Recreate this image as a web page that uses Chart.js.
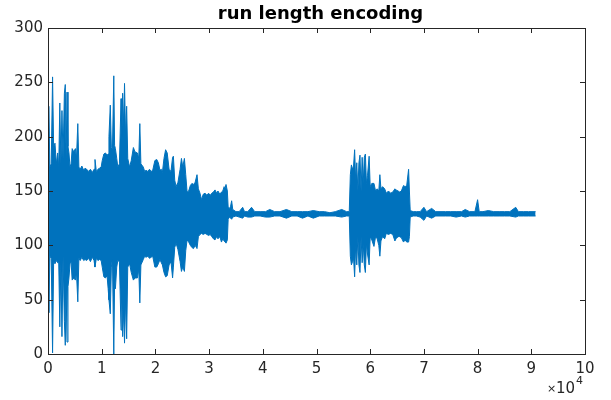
<!DOCTYPE html>
<html>
<head>
<meta charset="utf-8">
<title>run length encoding</title>
<script src="https://cdn.jsdelivr.net/npm/chart.js@4"></script>
<style>
	html, body { margin: 0; padding: 0; background: #fff; }
	#wrap { width: 611px; height: 400px; }
</style>
</head>
<body>
<div id="wrap"><canvas id="rleChart" width="611" height="400"></canvas></div>
<script>
// sample index, and the top / bottom of the waveform
const samples = [
	0, 150, 350, 600, 850, 1050, 1300, 1550, 1800, 2000,
	2200, 2400, 2600, 2800, 3050, 3220, 3380, 3540, 3720, 3900,
	4100, 4300, 4500, 4800, 5100, 5300, 5550, 5750, 6000, 6300,
	6650, 6900, 7200, 7600, 7900, 8250, 8570, 8750, 9000, 9300,
	9600, 9900, 10100, 10400, 10700, 11000, 11200, 11350, 11600, 11800,
	12000, 12250, 12400, 12550, 12800, 13000, 13300, 13600, 13750, 13900,
	14100, 14250, 14450, 14650, 14850, 15200, 15500, 15900, 16200, 16650,
	16900, 17100, 17300, 17750, 18000, 18250, 18600, 18900, 19200, 19500,
	19900, 20250, 20550, 20850, 21100, 21300, 21600, 21900, 22200, 22550,
	22900, 23200, 23350, 23600, 23850, 24200, 24600, 24850, 25100, 25400,
	25650, 25900, 26200, 26500, 26800, 27100, 27400, 27750, 28000, 28300,
	28600, 28900, 29250, 29600, 29900, 30200, 30500, 30800, 31100, 31400,
	31650, 32000, 32300, 32550, 32800, 33000, 33150, 33400, 33550, 33800,
	34000, 34200, 34400, 35000, 35600, 36250, 36600, 37200, 37900, 38500,
	39500, 40500, 41300, 42200, 43200, 44400, 45400, 46400, 47400, 48400,
	49400, 50500, 51500, 52500, 53500, 54700, 55600, 56100, 56300, 56500,
	56700, 56900, 57100, 57300, 57500, 57700, 57900, 58100, 58300, 58500,
	58700, 58900, 59100, 59300, 59500, 59800, 60000, 60300, 60700, 61000,
	61300, 61600, 61800, 62000, 62300, 62700, 63000, 63400, 63800, 64200,
	64600, 64800, 65200, 65500, 65800, 66200, 66500, 66800, 67150, 67300,
	67450, 68000, 68600, 69300, 70000, 70500, 71450, 72200, 73000, 74000,
	75000, 76000, 77000, 77700, 78500, 79500, 80000, 80300, 81000, 82000,
	83000, 84000, 85000, 86000, 87100, 87600, 88500, 89500, 90800
]
const upper = [
	150, 228, 172, 175, 255, 190, 194, 175, 185, 172,
	231, 175, 224, 180, 240, 248, 180, 241, 191, 185,
	172, 175, 189, 186, 189, 180, 212, 172, 170, 173,
	169, 171, 170, 168, 170, 167, 170, 179, 168, 170,
	171, 172, 178, 184, 185, 183, 184, 200, 229, 190,
	189, 256, 192, 189, 180, 172, 175, 235, 200, 240,
	210, 249, 200, 228, 180, 172, 178, 190, 186, 185,
	180, 212, 175, 172, 168, 169, 168, 170, 168, 169,
	178, 179, 176, 169, 170, 167, 180, 188, 185, 170,
	168, 181, 182, 160, 154, 158, 170, 180, 172, 180,
	165, 149, 150, 155, 157, 156, 158, 165, 152, 148,
	142, 147, 148, 146, 148, 146, 148, 149, 151, 148,
	150, 147, 149, 150, 154, 153, 156, 150, 135, 134,
	136, 141, 133, 131, 131, 135, 131, 131, 135, 131,
	131, 131, 133, 131, 131, 133, 131, 131, 131, 131,
	132, 131, 131, 130, 131, 133, 131, 131, 165, 174,
	170, 173, 188, 160, 176, 150, 176, 183, 150, 181,
	157, 181, 184, 157, 164, 182, 154, 157, 157, 150,
	152, 150, 165, 152, 154, 152, 148, 150, 148, 149,
	152, 151, 150, 149, 150, 155, 154, 155, 170, 150,
	132, 131, 131, 131, 135, 131, 134, 131, 131, 131,
	131, 131, 131, 133, 131, 131, 142, 131, 131, 132,
	131, 131, 131, 131, 135, 131, 131, 131, 131
]
const lower = [
	105, 38, 90, 88, 1, 85, 83, 86, 84, 84,
	25, 85, 16, 90, 30, 8, 60, 11, 62, 70,
	83, 85, 68, 70, 68, 75, 48, 88, 86, 89,
	86, 87, 86, 88, 85, 89, 86, 80, 88, 86,
	87, 86, 80, 71, 70, 72, 60, 50, 37, 80,
	88, 0, 65, 60, 80, 86, 85, 22, 50, 16,
	40, 10, 50, 14, 80, 83, 75, 68, 70, 70,
	78, 47, 82, 87, 90, 89, 90, 88, 89, 90,
	80, 80, 83, 87, 84, 82, 75, 71, 72, 82,
	85, 70, 80, 98, 102, 96, 85, 76, 80, 76,
	95, 105, 103, 100, 98, 97, 100, 97, 108, 110,
	111, 110, 111, 110, 109, 110, 108, 106, 105, 108,
	106, 108, 103, 106, 104, 103, 102, 105, 124, 126,
	125, 124, 126, 127, 126, 125, 127, 126, 126, 127,
	127, 126, 126, 127, 127, 125, 127, 127, 125, 127,
	125, 127, 127, 127, 127, 126, 127, 127, 90, 82,
	85, 88, 71, 100, 82, 108, 82, 75, 108, 84,
	102, 82, 75, 102, 92, 82, 108, 105, 99, 108,
	106, 100, 90, 104, 108, 106, 111, 110, 111, 110,
	104, 106, 108, 108, 107, 103, 105, 103, 103, 108,
	126, 127, 127, 126, 123, 127, 125, 127, 127, 127,
	127, 126, 127, 126, 127, 127, 127, 127, 127, 127,
	127, 127, 127, 127, 126, 127, 127, 127, 127
]
const xTicks = [0, 10000, 20000, 30000, 40000, 50000, 60000, 70000, 80000, 90000, 100000]
const yTicks = [0, 50, 100, 150, 200, 250, 300]

const chartTitle = 'run length encoding'
const lineColor = '#0072BD'
const axisColor = '#262626'
const fontName = '"DejaVu Sans", "Liberation Sans", sans-serif'

//frame, inward ticks, title and the x10^4 note, MATLAB style
const matlabAxes = {
	id: 'matlabAxes',
	afterDraw: chart => {
		const ctx = chart.ctx
		const area = chart.chartArea
		const xs = chart.scales.x
		const ys = chart.scales.y
		ctx.save()
		ctx.strokeStyle = axisColor
		ctx.lineWidth = 1
		ctx.strokeRect(area.left + 0.5, area.top + 0.5, area.right - area.left, area.bottom - area.top)

		ctx.beginPath()
		xTicks.forEach(t => {
			const px = Math.round(xs.getPixelForValue(t)) + 0.5
			ctx.moveTo(px, area.bottom)
			ctx.lineTo(px, area.bottom - 5)
			ctx.moveTo(px, area.top)
			ctx.lineTo(px, area.top + 5)
		})
		yTicks.forEach(t => {
			const py = Math.round(ys.getPixelForValue(t)) + 0.5
			ctx.moveTo(area.left, py)
			ctx.lineTo(area.left + 5, py)
			ctx.moveTo(area.right, py)
			ctx.lineTo(area.right - 5, py)
		})
		ctx.stroke()

		//title
		ctx.fillStyle = '#000'
		ctx.font = `bold 18px ${fontName}`
		ctx.textAlign = 'center'
		ctx.textBaseline = 'middle'
		ctx.fillText(chartTitle, (area.left + area.right) / 2 + 4, 14)

		//exponent note under the x axis
		ctx.fillStyle = axisColor
		ctx.textAlign = 'left'
		ctx.textBaseline = 'alphabetic'
		ctx.font = `11px ${fontName}`
		ctx.fillText('\u00d7', 547, 392)
		ctx.font = `15px ${fontName}`
		ctx.fillText('10', 556, 393)
		ctx.font = `11px ${fontName}`
		ctx.fillText('4', 576, 384)
		ctx.restore()
	}
}

document.addEventListener('DOMContentLoaded', () => {
	const canvas = document.getElementById('rleChart')
	const topPoints = samples.map((s, i) => ({ x: s, y: upper[i] }))
	const bottomPoints = samples.map((s, i) => ({ x: s, y: lower[i] }))

	new Chart(canvas, {
		type: 'line',
		data: {
			datasets: [{
				data: topPoints,
				borderColor: lineColor,
				backgroundColor: lineColor,
				borderWidth: 1,
				pointRadius: 0,
				tension: 0,
				fill: '+1'
			}, {
				data: bottomPoints,
				borderColor: lineColor,
				backgroundColor: lineColor,
				borderWidth: 1,
				pointRadius: 0,
				tension: 0,
				fill: false
			}]
		},
		options: {
			responsive: false,
			animation: false,
			events: [],
			layout: {
				padding: { top: 28, right: 26, bottom: 0, left: 0 }
			},
			plugins: {
				legend: { display: false },
				title: { display: false },
				tooltip: { enabled: false }
			},
			scales: {
				x: {
					type: 'linear',
					min: 0,
					max: 100000,
					afterFit: scale => { scale.height = 46 },
					afterBuildTicks: scale => { scale.ticks = xTicks.map(v => ({ value: v })) },
					grid: { display: false, drawTicks: false },
					border: { display: false },
					ticks: {
						color: axisColor,
						padding: 6,
						maxRotation: 0,
						font: { family: fontName, size: 15 },
						callback: v => v / 10000
					}
				},
				y: {
					min: 0,
					max: 300,
					afterFit: scale => { scale.width = 48 },
					afterBuildTicks: scale => { scale.ticks = yTicks.map(v => ({ value: v })) },
					grid: { display: false, drawTicks: false },
					border: { display: false },
					ticks: {
						color: axisColor,
						padding: 5,
						font: { family: fontName, size: 15 }
					}
				}
			}
		},
		plugins: [matlabAxes]
	})
})
</script>
</body>
</html>
